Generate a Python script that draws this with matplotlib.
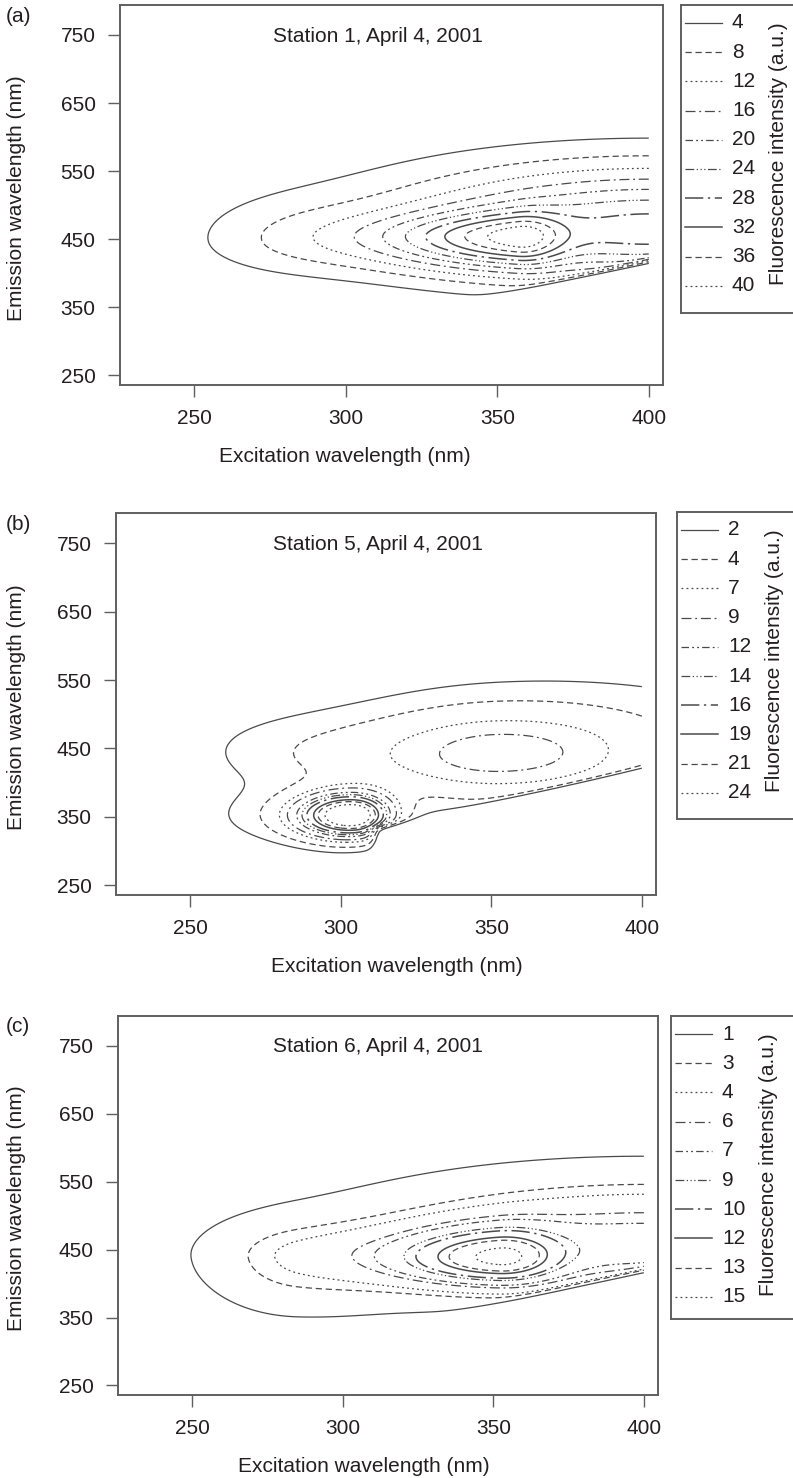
import numpy as np
import matplotlib
matplotlib.use("Agg")
import matplotlib.pyplot as plt

plt.rcParams['font.family'] = ['Liberation Sans', 'DejaVu Sans']
plt.rcParams['font.size'] = 15

W, H = 793, 1478
TXT = '#231f20'
FRAME = '#5f5f5f'
LINE = '#4a4a4a'

# excitation / emission grid of the scans (nm)
ex = np.arange(230, 401, 1.0)
em = np.arange(250, 791, 1.0)

# contour levels shown in each legend
levels_a = [4, 8, 12, 16, 20, 24, 28, 32, 36, 40]
levels_b = [2, 4, 7, 9, 12, 14, 16, 19, 21, 24]
levels_c = [1, 3, 4, 6, 7, 9, 10, 12, 13, 15]

# fluorescence components: amplitude, excitation peak and half-widths (low/high side),
# emission peak and half-widths (low/high side)
amp_a = [21, 30, 4.5]
exc_a = [357, 400, 280]
exl_a = [33, 60, 22]
exh_a = [10, 60, 22]
emc_a = [452, 462, 448]
eml_a = [30, 52, 35]
emh_a = [25, 68, 45]
cut_a = [250, 18]      # scatter cut: starts at excitation, emission offset

amp_b = [26, 4, 9.4, 1.8, 2.5]
exc_b = [304, 295, 352, 400, 285]
exl_b = [12, 25, 34, 60, 25]
exh_b = [9, 12, 38, 60, 25]
emc_b = [352, 350, 438, 490, 445]
eml_b = [22, 30, 48, 50, 40]
emh_b = [22, 30, 52, 70, 40]
cut_b = [311, 22]

amp_c = [10.2, 8, 3.2]
exc_c = [352, 400, 285]
exl_c = [24, 60, 20]
exh_c = [14, 60, 30]
emc_c = [436, 455, 438]
eml_c = [28, 48, 54]
emh_c = [32, 65, 38]
cut_c = [250, 20]

titles = ['Station 1, April 4, 2001', 'Station 5, April 4, 2001', 'Station 6, April 4, 2001']
tags = ['(a)', '(b)', '(c)']

styles = ['-', (0, (5, 3)), (0, (1.5, 2.5)), (0, (8, 3, 1.5, 3)),
          (0, (6, 2.5, 1.5, 2.5, 1.5, 2.5)), (0, (7, 2, 1, 2, 1, 2, 1, 2)),
          (0, (12, 3, 1.5, 3)), '-', (0, (5, 3)), (0, (1.5, 2.5))]
widths = [0.9, 0.9, 0.9, 0.9, 0.9, 0.9, 1.1, 1.1, 0.9, 0.9]


def half_gauss(x, c, lo, hi):
    s = np.where(x < c, lo, hi)
    return np.exp(-0.5 * ((x - c) / s) ** 2)


def step(x):
    return 0.5 * (1 + np.tanh(x / 2))


def eem(amp, exc, exl, exh, emc, eml, emh, cut):
    X, Y = np.meshgrid(ex, em)
    Z = np.zeros_like(X)
    for k in range(len(amp)):
        Z += amp[k] * half_gauss(X, exc[k], exl[k], exh[k]) * half_gauss(Y, emc[k], eml[k], emh[k])
    # scatter region removed below the excitation line
    Z *= 1 - step((X - cut[0]) / 1.0) * step((X + cut[1] - Y) / 2.5)
    return Z


def px_rect(l, t, r, b):
    return [l / W, 1 - b / H, (r - l) / W, (b - t) / H]


fig = plt.figure(figsize=(W / 100, H / 100), dpi=100)

panels = [
    (eem(amp_a, exc_a, exl_a, exh_a, emc_a, eml_a, emh_a, cut_a), levels_a,
     (120, 5, 663, 385), (681, 5, 313), 345),
    (eem(amp_b, exc_b, exl_b, exh_b, emc_b, eml_b, emh_b, cut_b), levels_b,
     (116, 513, 656, 895), (677, 512, 819), 397),
    (eem(amp_c, exc_c, exl_c, exh_c, emc_c, eml_c, emh_c, cut_c), levels_c,
     (118, 1016, 658, 1395), (671, 1016, 1319), 364),
]

for i, (Z, levels, box, leg, xlab_x) in enumerate(panels):
    l, t, r, b = box
    ax = fig.add_axes(px_rect(l, t, r, b))
    ax.contour(ex, em, Z, levels=levels, colors=LINE,
               linestyles=styles, linewidths=widths)
    ax.set_xlim(225.4, 404.7)
    ax.set_ylim(236, 794)
    ax.set_xticks([250, 300, 350, 400])
    ax.set_yticks([250, 350, 450, 550, 650, 750])
    ax.tick_params(direction='out', length=8.6, width=1.0, color=FRAME,
                   labelcolor=TXT, labelsize=15, pad=9)
    for s in ax.spines.values():
        s.set_color(FRAME)
        s.set_linewidth(1.4)
    fig.text(273 / W, 1 - (t + 31) / H, titles[i], ha='left', va='center', color=TXT)
    fig.text(6 / W, 1 - (t + 11) / H, tags[i], ha='left', va='center', color=TXT)
    fig.text(17 / W, 1 - ((t + b) / 2 + 3) / H, 'Emission wavelength (nm)',
             rotation=90, ha='center', va='center', color=TXT)
    fig.text(xlab_x / W, 1 - (b + 71) / H, 'Excitation wavelength (nm)',
             ha='center', va='center', color=TXT)

    # legend box, running off the right edge of the page
    ll, lt, lb = leg
    lax = fig.add_axes(px_rect(ll, lt, ll + 140, lb))
    lax.set_xlim(0, 140)
    lax.set_ylim(lb - lt, 0)
    lax.set_xticks([])
    lax.set_yticks([])
    for s in lax.spines.values():
        s.set_color(FRAME)
        s.set_linewidth(1.4)
    for j, lv in enumerate(levels):
        y = 18 + j * 29.2
        lax.plot([4, 41], [y, y], color=LINE, linestyle=styles[j], linewidth=widths[j])
        lax.text(51, y, str(lv), ha='left', va='center', color=TXT)
    lax.text(97, 149, 'Fluorescence intensity (a.u.)', rotation=90,
             ha='center', va='center', color=TXT)

fig.savefig('out.png', dpi=100)
